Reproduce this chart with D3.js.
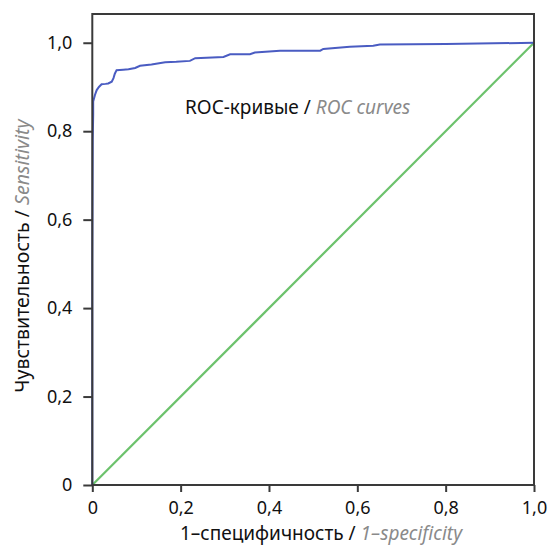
<!DOCTYPE html>
<html>
<head>
<meta charset="utf-8">
<script src="https://cdn.jsdelivr.net/npm/d3@7"></script>
<style>
  body { margin: 0; background: #fff; }
  text { font-family: "Noto Sans", "Open Sans", sans-serif; }
</style>
</head>
<body>
<div id="chart"></div>
<script>
// ROC curve points: 1-specificity, sensitivity
var rocFpr = [0, 0, 0.001, 0.002, 0.002, 0.006, 0.010, 0.015, 0.021, 0.030, 0.036, 0.044, 0.048, 0.051, 0.055, 0.070, 0.082, 0.097, 0.108, 0.134, 0.165, 0.190, 0.221, 0.233, 0.297, 0.312, 0.357, 0.368, 0.425, 0.516, 0.523, 0.583, 0.636, 0.651, 0.800, 1.0];
var rocTpr = [0, 0.50, 0.78, 0.837, 0.867, 0.882, 0.893, 0.900, 0.906, 0.907, 0.908, 0.912, 0.920, 0.930, 0.938, 0.939, 0.940, 0.943, 0.948, 0.951, 0.956, 0.957, 0.959, 0.965, 0.968, 0.974, 0.974, 0.978, 0.982, 0.982, 0.986, 0.991, 0.993, 0.996, 0.997, 1.0];
var diagX = [0, 1];
var diagY = [0, 1];
var tickValues = [0, 0.2, 0.4, 0.6, 0.8, 1.0];
var tickLabels = ["0", "0,2", "0,4", "0,6", "0,8", "1,0"];

var W = 550, H = 545;
var margin = { top: 14, right: 16, bottom: 60, left: 92.3 };
var width = W - margin.left - margin.right;
var height = H - margin.top - margin.bottom;

var svg = d3.select("#chart").append("svg")
    .attr("width", W)
    .attr("height", H);

var g = svg.append("g")
    .attr("transform", "translate(" + margin.left + "," + margin.top + ")");

var x = d3.scaleLinear().domain([0, 1]).range([0, width]);
var y = d3.scaleLinear().domain([0, 1.065]).range([height, 0]);

// diagonal reference line
g.append("path")
    .datum(diagX.map(function(d, i) { return [d, diagY[i]]; }))
    .attr("d", d3.line().x(function(d) { return x(d[0]); }).y(function(d) { return y(d[1]); }))
    .attr("fill", "none")
    .attr("stroke", "#6cc26c")
    .attr("stroke-width", 2.2);

// ROC curve
g.append("path")
    .datum(rocFpr.map(function(d, i) { return [d, rocTpr[i]]; }))
    .attr("d", d3.line().x(function(d) { return x(d[0]); }).y(function(d) { return y(d[1]); }))
    .attr("fill", "none")
    .attr("stroke", "#4a5cc2")
    .attr("stroke-width", 2);

// frame
g.append("rect")
    .attr("x", 0).attr("y", 0)
    .attr("width", width).attr("height", height)
    .attr("fill", "none")
    .attr("stroke", "#3a3a3a")
    .attr("stroke-width", 2);

var xAxis = g.append("g")
    .attr("transform", "translate(0," + height + ")")
    .call(d3.axisBottom(x).tickValues(tickValues)
        .tickFormat(function(d, i) { return tickLabels[i]; })
        .tickSize(7).tickPadding(9));

var yAxis = g.append("g")
    .call(d3.axisLeft(y).tickValues(tickValues)
        .tickFormat(function(d, i) { return tickLabels[i]; })
        .tickSize(9).tickPadding(11));

[xAxis, yAxis].forEach(function(a) {
    a.select(".domain").remove();
    a.selectAll(".tick line").attr("stroke", "#3a3a3a").attr("stroke-width", 2);
    a.selectAll(".tick text")
        .attr("fill", "#111")
        .style("font-size", "18px")
        .style("font-family", "'Noto Sans', sans-serif");
});

// x axis title
var xt = svg.append("text")
    .attr("x", 321)
    .attr("y", 540)
    .attr("text-anchor", "middle")
    .style("font-size", "19px")
    .attr("fill", "#111");
xt.append("tspan").text("1–специфичность / ");
xt.append("tspan").attr("fill", "#8a8a8a").style("font-style", "italic").text("1–specificity");

// y axis title
var yt = svg.append("text")
    .attr("transform", "translate(29,256) rotate(-90)")
    .attr("text-anchor", "middle")
    .style("font-size", "19.5px")
    .attr("fill", "#111");
yt.append("tspan").text("Чувствительность / ");
yt.append("tspan").attr("fill", "#8a8a8a").style("font-style", "italic").text("Sensitivity");

// in-plot label
var lt = svg.append("text")
    .attr("x", 185)
    .attr("y", 114)
    .style("font-size", "19px")
    .attr("fill", "#111");
lt.append("tspan").text("ROC-кривые / ");
lt.append("tspan").attr("fill", "#8a8a8a").style("font-style", "italic").text("ROC curves");
</script>
</body>
</html>
